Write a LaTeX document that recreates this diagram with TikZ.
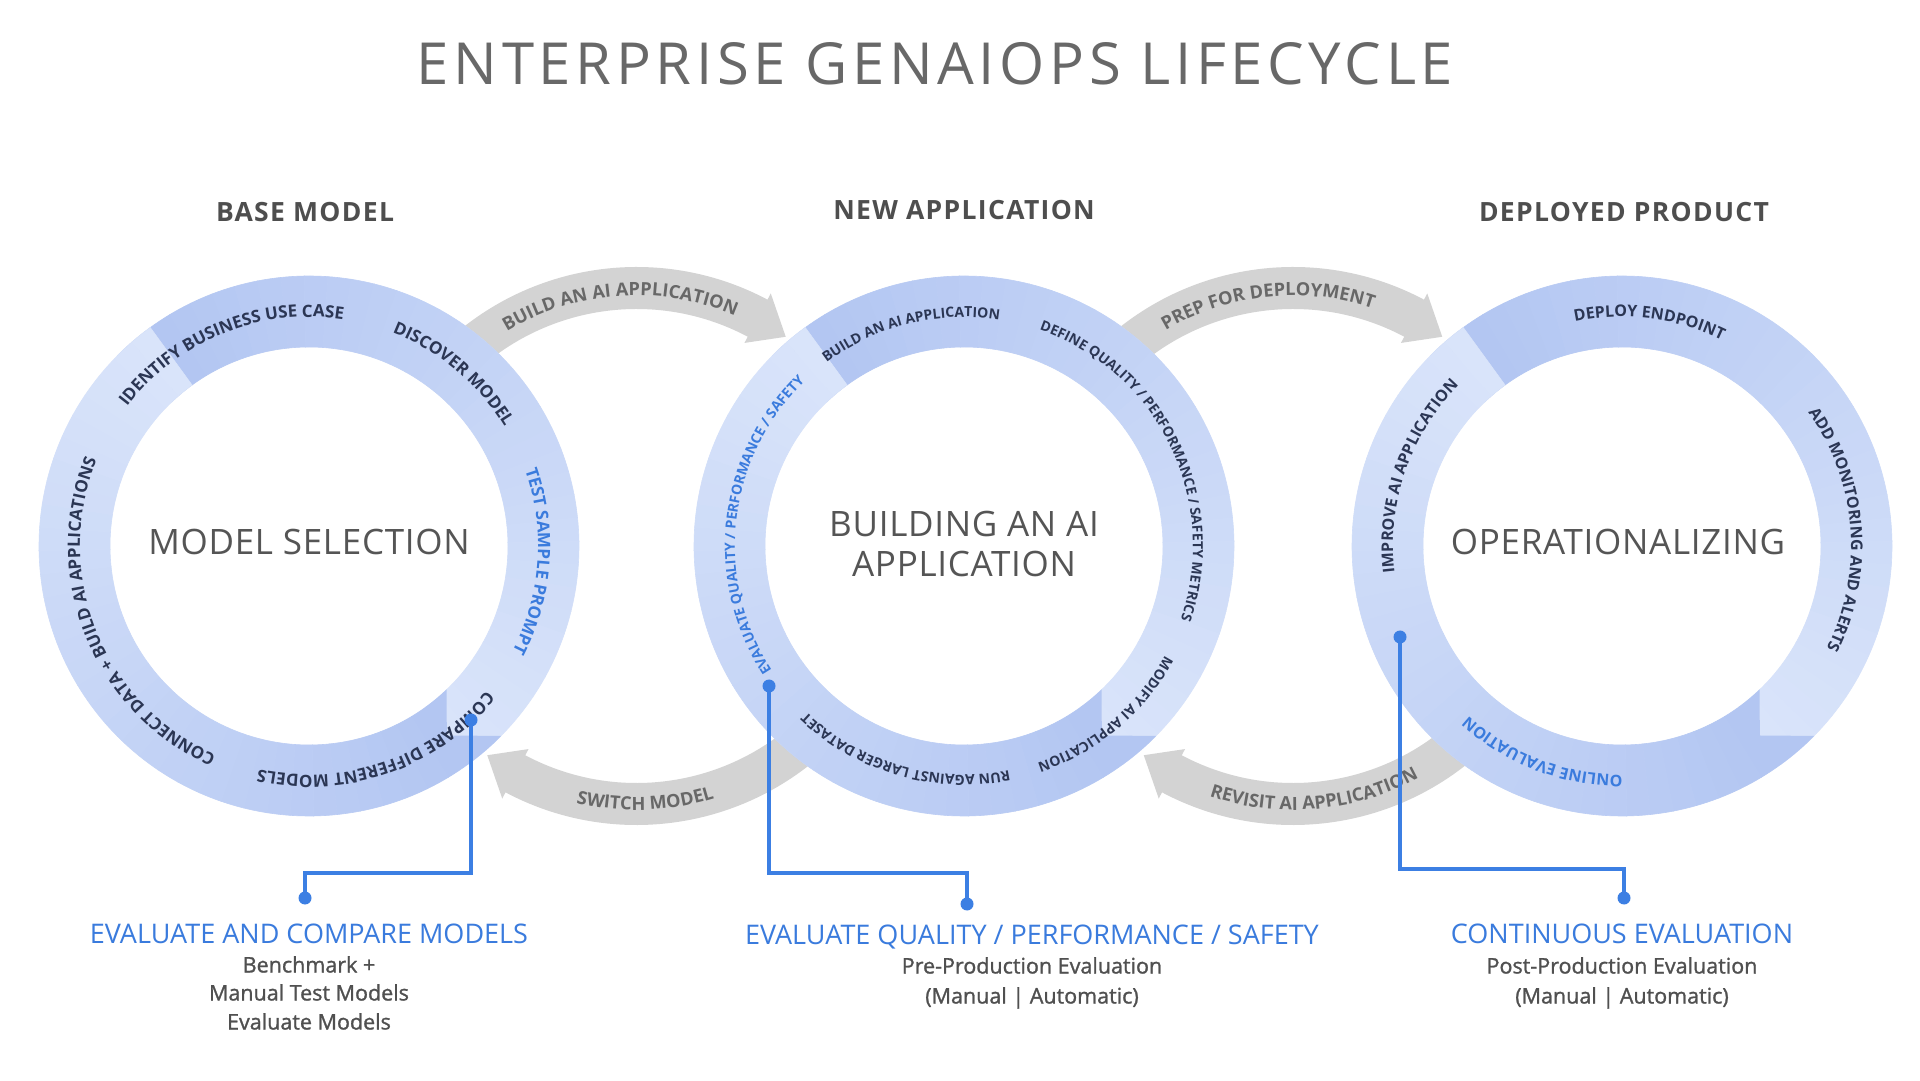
\documentclass[tikz,border=0pt]{standalone}
\usepackage{fontspec}
\setmainfont{Open Sans}
\newfontfamily\titlefont[LetterSpace=8]{Open Sans}
\newfontfamily\hdrfont[LetterSpace=5]{Open Sans}
\newfontfamily\ctrfont[LetterSpace=2]{Open Sans}
\newfontfamily\semifont[FakeBold=1.2]{Open Sans}
\usetikzlibrary{decorations.text,calc}
\definecolor{ringdark}{HTML}{B3C6F2}
\definecolor{ringlight}{HTML}{D9E4FA}
\definecolor{bandgray}{HTML}{D3D3D3}
\definecolor{bandtext}{HTML}{686868}
\definecolor{navy}{HTML}{2B3654}
\definecolor{ltblue}{HTML}{3A7BDD}
\definecolor{connblue}{HTML}{3C7FE3}
\definecolor{titlegray}{HTML}{686868}
\definecolor{hdrgray}{HTML}{4E4E4E}
\definecolor{ctrgray}{HTML}{555555}
\definecolor{subgray}{HTML}{505050}
\newcommand\fs[1]{\fontsize{#1}{#1}\selectfont}
% ring with sawtooth shading and square-cornered tips
\newcommand\drawring[1]{%
  \fill[white] (#1) circle[radius=270];
  \foreach \t in {126,-54}{%
    \foreach \i in {0,...,35}{%
      \pgfmathsetmacro\aa{\t-\i*5}%
      \pgfmathsetmacro\ab{\t-\i*5-5}%
      \pgfmathtruncatemacro\p{100-\i*100/35}%
      \filldraw[fill=ringdark!\p!ringlight, draw=ringdark!\p!ringlight, line width=0.6pt]
        ($(#1)+(\aa:270)$) arc[start angle=\aa, end angle=\ab, radius=270]
        -- ($(#1)+(\ab:199)$) arc[start angle=\ab, end angle=\aa, radius=199] -- cycle;
    }%
    \pgfmathsetmacro\te{\t+9.4}%
    \pgfmathsetmacro\ti{\t+7.8}%
    \fill[ringdark] ($(#1)+(\t:234.5)$) -- ($(#1)+(\t:270.3)$) arc[start angle=\t, end angle=\te, radius=270.3] -- cycle;
    \fill[ringdark] ($(#1)+(\t:234.5)$) -- ($(#1)+(\t:198.7)$) arc[start angle=\t, end angle=\ti, radius=198.7] -- cycle;
  }%
}
% text on a ring, clockwise, tops outward
\newcommand\rtxt[5]{%
  \pgfmathsetmacro\sa{#2+75}\pgfmathsetmacro\ea{#2-75}%
  \path[decorate, decoration={text along path, text={|\bfseries\fs{#4}|#5}, text align=center, text color=#3}]
    ($(#1)+(\sa:229)$) arc[start angle=\sa, end angle=\ea, radius=229];
}
% gray band arrows around a midpoint
\newcommand\band[1]{%
  \fill[bandgray] ($(#1)+(140:279)$) arc[start angle=140, end angle=62, radius=279]
    -- ($(#1)+(62:286)$) -- ($(#1)+(54.5:257)$) -- ($(#1)+(62:230)$) -- ($(#1)+(62:237)$)
    arc[start angle=62, end angle=140, radius=237] -- cycle;
  \fill[bandgray] ($(#1)+(-40:279)$) arc[start angle=-40, end angle=-118, radius=279]
    -- ($(#1)+(-118:286)$) -- ($(#1)+(-125.5:257)$) -- ($(#1)+(-118:230)$) -- ($(#1)+(-118:237)$)
    arc[start angle=-118, end angle=-40, radius=237] -- cycle;
}
\newcommand\toptxt[3]{%
  \pgfmathsetmacro\sa{#2+55}\pgfmathsetmacro\ea{#2-55}%
  \path[decorate, decoration={text along path, text={|\bfseries\fs{18.2}|#3}, text align=center, text color=bandtext}]
    ($(#1)+(\sa:250.5)$) arc[start angle=\sa, end angle=\ea, radius=250.5];
}
\newcommand\bottxt[3]{%
  \pgfmathsetmacro\sa{#2-55}\pgfmathsetmacro\ea{#2+55}%
  \path[decorate, decoration={text along path, text={|\bfseries\fs{18.2}|#3}, text align=center, text color=bandtext}]
    ($(#1)+(\sa:264)$) arc[start angle=\sa, end angle=\ea, radius=264];
}
\tikzset{
  conn/.style={draw=connblue, line width=3.5pt},
  dot/.style={circle, fill=connblue, inner sep=0pt, minimum size=13pt},
  bluetitle/.style={anchor=base, text=ltblue, font=\fs{27}},
  subline/.style={anchor=base, text=subgray, font=\semifont\fs{21.5}},
  hdr/.style={anchor=base, text=hdrgray, font=\hdrfont\bfseries\fs{26.5}},
  ctr/.style={anchor=base, text=ctrgray, font=\ctrfont\fs{35}, align=center},
}
\begin{document}
\begin{tikzpicture}[x=1pt,y=1pt]
\useasboundingbox (0,0) rectangle (1920,1080);
\fill[white] (0,0) rectangle (1920,1080);

\coordinate (c1) at (309,534);
\coordinate (c2) at (964,534);
\coordinate (c3) at (1622,534);
\coordinate (m12) at (636.5,534);
\coordinate (m23) at (1293,534);

% gray arrows behind rings
\band{m12}
\band{m23}
\toptxt{m12}{94}{BUILD AN AI APPLICATION}
\bottxt{m12}{-88}{SWITCH MODEL}
\toptxt{m23}{96}{PREP FOR DEPLOYMENT}
\bottxt{m23}{-85}{REVISIT AI APPLICATION}

% rings
\drawring{c1}
\drawring{c2}
\drawring{c3}

% ring labels
\rtxt{c1}{112}{navy}{17}{IDENTIFY BUSINESS USE CASE}
\rtxt{c1}{50}{navy}{17}{DISCOVER MODEL}
\rtxt{c1}{-4}{ltblue}{17}{TEST SAMPLE PROMPT}
\rtxt{c1}{-71}{navy}{17}{COMPARE DIFFERENT MODELS}
\rtxt{c1}{202}{navy}{17}{CONNECT DATA + BUILD AI APPLICATIONS}

\rtxt{c2}{104}{navy}{14}{BUILD AN AI APPLICATION}
\rtxt{c2}{26}{navy}{14}{DEFINE QUALITY / PERFORMANCE / SAFETY METRICS}
\rtxt{c2}{-50}{navy}{14}{MODIFY AI APPLICATION}
\rtxt{c2}{-106}{navy}{14}{RUN AGAINST LARGER DATASET}
\rtxt{c2}{173.5}{ltblue}{14}{EVALUATE QUALITY / PERFORMANCE / SAFETY}

\rtxt{c3}{83}{navy}{16}{DEPLOY ENDPOINT}
\rtxt{c3}{4.5}{navy}{16}{ADD MONITORING AND ALERTS}
\rtxt{c3}{-111}{ltblue}{16}{ONLINE EVALUATION}
\rtxt{c3}{161}{navy}{16}{IMPROVE AI APPLICATION}

% title and headers
\node[anchor=base, text=titlegray, font=\titlefont\fs{58}] (title) at (935,995) {ENTERPRISE GENAIOPS LIFECYCLE};
\node[hdr] (h1) at (305,858) {BASE MODEL};
\node[hdr] (h2) at (964,860) {NEW APPLICATION};
\node[hdr] (h3) at (1624,858) {DEPLOYED PRODUCT};

% centre texts
\node[ctr] (t1) at (309,525.5) {MODEL SELECTION};
\node[ctr] (t2a) at (964,543.5) {BUILDING AN AI};
\node[ctr] (t2b) at (964,503.5) {APPLICATION};
\node[ctr] (t3) at (1618,525.5) {OPERATIONALIZING};

% connectors
\node[dot] (p1) at (471,360) {};
\node[dot] (q1) at (305,182) {};
\node[dot] (p2) at (769,394) {};
\node[dot] (q2) at (967,176) {};
\node[dot] (p3) at (1400,443) {};
\node[dot] (q3) at (1624,182) {};
\coordinate (k1) at (0,207);
\coordinate (k2) at (0,207);
\coordinate (k3) at (0,211);
\draw[conn] (p1.center) -- (p1 |- k1) -- (q1 |- k1) -- (q1.center);
\draw[conn] (p2.center) -- (p2 |- k2) -- (q2 |- k2) -- (q2.center);
\draw[conn] (p3.center) -- (p3 |- k3) -- (q3 |- k3) -- (q3.center);

% bottom texts
\node[bluetitle] (b1) at (309,137) {EVALUATE AND COMPARE MODELS};
\node[subline] (b1a) at (309,107.5) {Benchmark +};
\node[subline] (b1b) at (309,79.5) {Manual Test Models};
\node[subline] (b1c) at (309,50.5) {Evaluate Models};

\node[bluetitle] (b2) at (1032,136) {EVALUATE QUALITY / PERFORMANCE / SAFETY};
\node[subline] (b2a) at (1032,106.5) {Pre-Production Evaluation};
\node[subline] (b2b) at (1032,76.5) {(Manual | Automatic)};

\node[bluetitle] (b3) at (1622,137) {CONTINUOUS EVALUATION};
\node[subline] (b3a) at (1622,106.5) {Post-Production Evaluation};
\node[subline] (b3b) at (1622,76.5) {(Manual | Automatic)};
\end{tikzpicture}
\end{document}
